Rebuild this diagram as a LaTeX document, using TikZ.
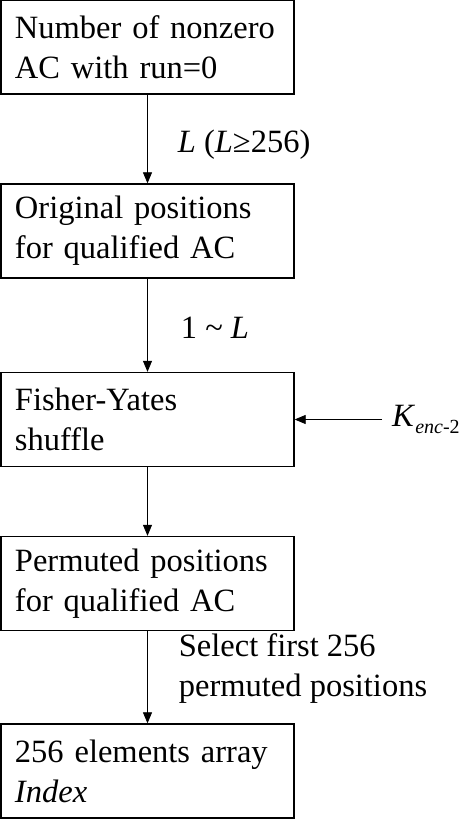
\documentclass[tikz,border=0pt]{standalone}
\usepackage{fontspec}
\setmainfont{Liberation Serif}
\usetikzlibrary{arrows.meta}
\tikzset{
    flowbox/.style={draw, line width=1.3pt, minimum width=293pt, minimum height=94pt,
        text width=265pt, align=left, inner sep=0pt},
    flowarrow/.style={-{Triangle[length=11pt,width=9pt]}, line width=0.8pt},
    flowlabel/.style={align=left, anchor=west, inner sep=0pt}
}
\begin{document}
\begin{tikzpicture}[x=1pt,y=1pt,font=\fontsize{32.5}{40}\selectfont]
        \useasboundingbox (0,0) rectangle (467,820);
        %% Boxes
        \node[flowbox] (count) at (147.5,773) {Number of nonzero\\AC with run=0};
        \node[flowbox] (orig) at (147.5,589) {Original positions\\for qualified AC};
        \node[flowbox] (shuffle) at (147.5,400.5) {Fisher-Yates\\shuffle};
        \node[flowbox] (perm) at (147.5,236.5) {Permuted positions\\for qualified AC};
        \node[flowbox] (index) at (147.5,49) {256 elements array\\\textit{Index}};
        %% Key
        \node[anchor=west, inner xsep=10pt, inner ysep=0pt] (key) at (382,400.5)
            {\textit{K}\raisebox{-7pt}{\fontsize{20}{20}\selectfont\textit{enc}-2}};
        %% Arrows
        \draw[flowarrow] (count) -- (orig)
            node[flowlabel, midway, xshift=30pt, yshift=-6pt] {\textit{L} (\textit{L}≥256)};
        \draw[flowarrow] (orig) -- (shuffle)
            node[flowlabel, midway, xshift=33pt, yshift=-3pt] {1 \textasciitilde\ \textit{L}};
        \draw[flowarrow] (shuffle) -- (perm);
        \draw[flowarrow] (perm) -- (index)
            node[flowlabel, midway, xshift=31pt, yshift=9pt] {Select first 256\\permuted positions};
        \draw[flowarrow] (key.west) -- (shuffle.east);
    \end{tikzpicture}
\end{document}
